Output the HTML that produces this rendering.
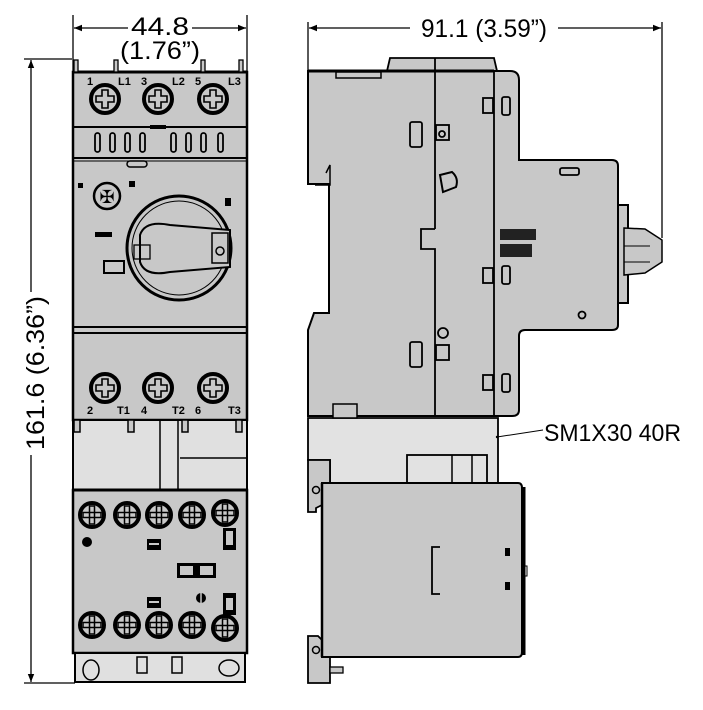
<!DOCTYPE html>
<html><head><style>
html,body{margin:0;padding:0;background:#fff;}
svg{display:block;}
.t{font-family:"Liberation Sans",sans-serif;}
</style></head><body>
<svg width="703" height="710" viewBox="0 0 703 710" xmlns="http://www.w3.org/2000/svg">
<defs>
<marker id="ar" viewBox="0 0 10 10" refX="10" refY="5" markerWidth="14" markerHeight="8" orient="auto-start-reverse" markerUnits="userSpaceOnUse"><path d="M0,1 L10,5 L0,9 Z" fill="#000"/></marker>
<g id="scr"><circle r="14" fill="#c8c8c8" stroke="#000" stroke-width="4"/><path d="M-3,-9 h6 v6 h6 v6 h-6 v6 h-6 v-6 h-6 v-6 h6z" fill="none" stroke="#000" stroke-width="1.6"/></g>
<g id="scr2"><circle r="12" fill="#c8c8c8" stroke="#000" stroke-width="4"/><rect x="-9" y="-2.5" width="18" height="5" fill="none" stroke="#000" stroke-width="1.5"/><rect x="-2.5" y="-9" width="5" height="18" fill="none" stroke="#000" stroke-width="1.5"/></g>
</defs>

<!-- dimensions -->
<g stroke="#000" stroke-width="1.3" fill="none">
<line x1="73" y1="15" x2="73" y2="72"/><line x1="247" y1="15" x2="247" y2="72"/>
<line x1="74" y1="28" x2="128" y2="28" marker-start="url(#ar)"/><line x1="192" y1="28" x2="246" y2="28" marker-end="url(#ar)"/>
<line x1="308" y1="22" x2="308" y2="72"/><line x1="662" y1="22" x2="662" y2="238"/>
<line x1="309" y1="28" x2="410" y2="28" marker-start="url(#ar)"/><line x1="558" y1="28" x2="661" y2="28" marker-end="url(#ar)"/>
<line x1="24" y1="59" x2="72" y2="59"/><line x1="24" y1="683" x2="75" y2="683"/>
<line x1="31" y1="60" x2="31" y2="292" marker-start="url(#ar)"/><line x1="31" y1="455" x2="31" y2="682" marker-end="url(#ar)"/>
</g>
<text class="t" x="160" y="35" font-size="25" text-anchor="middle" textLength="58" lengthAdjust="spacingAndGlyphs">44.8</text>
<text class="t" x="160" y="59" font-size="25" text-anchor="middle" textLength="80" lengthAdjust="spacingAndGlyphs">(1.76”)</text>
<text class="t" x="484" y="37" font-size="25" text-anchor="middle" textLength="126" lengthAdjust="spacingAndGlyphs">91.1 (3.59”)</text>
<text class="t" transform="translate(44,373) rotate(-90)" font-size="25" text-anchor="middle" textLength="154" lengthAdjust="spacingAndGlyphs">161.6 (6.36”)</text>

<!-- FRONT VIEW -->
<g stroke="#000" stroke-width="2">
<rect x="73" y="72" width="174" height="348" fill="#c8c8c8" stroke-width="2.5"/>
<rect x="73" y="420" width="174" height="70" fill="#e0e0e0"/>
<rect x="73" y="490" width="174" height="163" fill="#c8c8c8" stroke-width="2.5"/>
<rect x="75" y="653" width="170" height="29" fill="#e0e0e0"/>
</g>
<g stroke="#000" fill="none">
<line x1="73" y1="127" x2="247" y2="127" stroke-width="2"/>
<line x1="73" y1="158" x2="247" y2="158" stroke-width="2"/>
<line x1="73" y1="161" x2="247" y2="161" stroke-width="1"/>
<line x1="73" y1="327" x2="247" y2="327" stroke-width="2"/>
<line x1="73" y1="333" x2="247" y2="333" stroke-width="2"/>
<line x1="73" y1="72" x2="247" y2="72" stroke-width="3"/>
<line x1="160" y1="420" x2="160" y2="490" stroke-width="1.5"/>
<line x1="178" y1="420" x2="178" y2="490" stroke-width="1.5"/>
<line x1="180" y1="458" x2="247" y2="458" stroke-width="1.5"/>
<line x1="73" y1="490" x2="247" y2="490" stroke-width="3"/>
</g>
<!-- top pins -->
<g fill="#c8c8c8" stroke="#000" stroke-width="1.3">
<rect x="74" y="60" width="4" height="12"/><rect x="114" y="60" width="4" height="12"/><rect x="201" y="60" width="4" height="12"/><rect x="239" y="60" width="4" height="12"/>
</g>
<!-- slots -->
<g fill="none" stroke="#000" stroke-width="1.8">
<rect x="95" y="133" width="5" height="19" rx="2.5"/><rect x="110" y="133" width="5" height="19" rx="2.5"/><rect x="125" y="133" width="5" height="19" rx="2.5"/><rect x="140" y="133" width="5" height="19" rx="2.5"/>
<rect x="171" y="133" width="5" height="19" rx="2.5"/><rect x="186" y="133" width="5" height="19" rx="2.5"/><rect x="201" y="133" width="5" height="19" rx="2.5"/><rect x="218" y="133" width="5" height="19" rx="2.5"/>
</g>
<rect x="150" y="125" width="16" height="4" fill="#000"/>
<rect x="127" y="161" width="20" height="6" rx="3" fill="#c8c8c8" stroke="#000" stroke-width="1.5"/>
<g class="t" font-size="11" font-weight="bold">
<text x="87" y="85">1</text><text x="118" y="85">L1</text><text x="141" y="85">3</text><text x="172" y="85">L2</text><text x="195" y="85">5</text><text x="228" y="85">L3</text>
<text x="87" y="414">2</text><text x="117" y="414">T1</text><text x="141" y="414">4</text><text x="172" y="414">T2</text><text x="195" y="414">6</text><text x="228" y="414">T3</text>
</g>
<use href="#scr" x="105" y="99"/><use href="#scr" x="158" y="99"/><use href="#scr" x="213" y="99"/>
<use href="#scr" x="105" y="388"/><use href="#scr" x="158" y="388"/><use href="#scr" x="213" y="388"/>
<!-- small screw & knob -->
<circle cx="107" cy="196" r="13" fill="#c8c8c8" stroke="#000" stroke-width="2.5"/>
<text class="t" x="107" y="203" font-size="18" text-anchor="middle">✠</text>
<rect x="78" y="183" width="5" height="5" fill="#000"/><rect x="129" y="181" width="6" height="6" fill="#000"/>
<rect x="225" y="198" width="6" height="8" fill="#000"/>
<rect x="95" y="232" width="17" height="5" fill="#000"/>
<circle cx="179" cy="248" r="52" fill="#c8c8c8" stroke="#000" stroke-width="3"/>
<circle cx="179" cy="248" r="47" fill="none" stroke="#000" stroke-width="1"/>
<path d="M140,235 Q145,220 170,225 L230,230 L230,267 L170,272 Q145,277 140,262 Z" fill="#c8c8c8" stroke="#000" stroke-width="2"/>
<rect x="212" y="233" width="16" height="30" fill="none" stroke="#000" stroke-width="1.5"/>
<circle cx="220" cy="251" r="4" fill="none" stroke="#000" stroke-width="1.5"/>
<rect x="134" y="245" width="16" height="14" fill="none" stroke="#000" stroke-width="1.3"/>
<rect x="104" y="261" width="20" height="12" fill="#c8c8c8" stroke="#000" stroke-width="2"/>
<!-- cover clips -->
<g fill="#c8c8c8" stroke="#000" stroke-width="1.5">
<rect x="74" y="420" width="6" height="12"/><rect x="128" y="420" width="6" height="12"/><rect x="182" y="420" width="6" height="12"/><rect x="236" y="420" width="6" height="12"/>
</g>
<!-- contactor -->
<use href="#scr2" x="92" y="515"/><use href="#scr2" x="127" y="515"/><use href="#scr2" x="159" y="515"/><use href="#scr2" x="192" y="515"/><use href="#scr2" x="225" y="513"/>
<use href="#scr2" x="92" y="625"/><use href="#scr2" x="127" y="625"/><use href="#scr2" x="159" y="625"/><use href="#scr2" x="192" y="625"/><use href="#scr2" x="225" y="628"/>
<circle cx="87" cy="542" r="5" fill="#000"/>
<rect x="147" y="539" width="14" height="11" fill="#000"/><rect x="149" y="543" width="10" height="2" fill="#c8c8c8"/>
<rect x="147" y="597" width="14" height="11" fill="#000"/><rect x="149" y="601" width="10" height="2" fill="#c8c8c8"/>
<rect x="223" y="528" width="13" height="22" fill="#000"/><rect x="226" y="531" width="7" height="14" fill="#c8c8c8"/>
<rect x="223" y="593" width="13" height="22" fill="#000"/><rect x="226" y="598" width="7" height="12" fill="#c8c8c8"/>
<rect x="177" y="563" width="39" height="15" fill="#000"/><rect x="180" y="566" width="13" height="9" fill="#c8c8c8"/><rect x="200" y="566" width="13" height="9" fill="#c8c8c8"/>
<circle cx="201" cy="598" r="5" fill="#000"/><line x1="201" y1="593" x2="201" y2="603" stroke="#c8c8c8" stroke-width="1.5"/>
<ellipse cx="91" cy="670" rx="8" ry="10" fill="none" stroke="#000" stroke-width="1.5"/>
<ellipse cx="229" cy="668" rx="10" ry="8" fill="none" stroke="#000" stroke-width="1.5"/>
<rect x="137" y="657" width="10" height="16" fill="none" stroke="#000" stroke-width="1.5"/>
<rect x="172" y="657" width="10" height="16" fill="none" stroke="#000" stroke-width="1.5"/>

<!-- SIDE VIEW -->
<path d="M390,58 L494,58 L497,71 L387,71 Z" fill="#c8c8c8" stroke="#000" stroke-width="1.8"/>
<path d="M308,71 L510,71 Q519,71 519,80 L519,160 L612,160 Q618,160 618,166 L618,325 Q618,330 612,330 L525,330 Q519,330 519,336 L519,410 Q519,416 512,416 L308,416 L308,330 L314,313 L329,313 L329,184 L308,184 Z" fill="#c8c8c8" stroke="#000" stroke-width="2"/>
<line x1="308" y1="71" x2="494" y2="71" stroke="#000" stroke-width="3"/>
<line x1="435" y1="58" x2="435" y2="229" stroke="#000" stroke-width="1.8"/>
<path d="M435,229 L421,229 L421,249 L435,249 L435,416" fill="none" stroke="#000" stroke-width="1.8"/>
<line x1="494" y1="71" x2="494" y2="416" stroke="#000" stroke-width="1.8"/>
<rect x="336" y="72" width="45" height="6" fill="#c8c8c8" stroke="#000" stroke-width="1.5"/>
<g fill="none" stroke="#000" stroke-width="1.8">
<rect x="410" y="122" width="12" height="25" rx="2"/><rect x="410" y="342" width="12" height="25" rx="2"/>
<rect x="436" y="125" width="13" height="15"/><circle cx="442" cy="134" r="3"/>
<rect x="436" y="345" width="13" height="15"/><circle cx="443" cy="333" r="5"/>
<rect x="483" y="98" width="10" height="15"/><rect x="483" y="268" width="10" height="15"/><rect x="483" y="375" width="10" height="15"/>
<rect x="502" y="97" width="8" height="18" rx="2"/><rect x="502" y="266" width="8" height="18" rx="2"/><rect x="502" y="374" width="8" height="18" rx="2"/>
<rect x="560" y="168" width="19" height="7" rx="2"/>
<circle cx="582" cy="315" r="3.5"/>
</g>
<path d="M440,175 L452,172 Q459,178 456,187 L443,192 Z" fill="#c8c8c8" stroke="#000" stroke-width="2"/>
<rect x="500" y="229" width="36" height="11" fill="#222"/><rect x="500" y="244" width="32" height="13" fill="#222"/>
<path d="M326,173 L330,165 L330,185 L315,185" fill="none" stroke="#000" stroke-width="1.5"/>
<!-- knob side -->
<rect x="618" y="205" width="10" height="98" fill="#c8c8c8" stroke="#000" stroke-width="2"/>
<path d="M624,228 L645,229 L662,240 L662,262 L645,273 L624,275 Z" fill="#c8c8c8" stroke="#000" stroke-width="1.5"/>
<line x1="624" y1="246" x2="650" y2="246" stroke="#000"/><line x1="624" y1="262" x2="650" y2="262" stroke="#000"/>
<!-- adapter -->
<path d="M308,418 L498,418 L498,483 L330,483 L330,460 L308,460 Z" fill="#e2e2e2" stroke="#000" stroke-width="1.8"/>
<rect x="333" y="404" width="24" height="14" fill="#c8c8c8" stroke="#000" stroke-width="1.5"/>
<rect x="407" y="455" width="80" height="28" fill="#e2e2e2" stroke="#000" stroke-width="1.8"/>
<line x1="452" y1="455" x2="452" y2="483" stroke="#000" stroke-width="1.5"/><line x1="472" y1="455" x2="472" y2="483" stroke="#000" stroke-width="1.5"/>
<!-- rail -->
<path d="M308,460 L330,460 L330,483 L322,483 L322,505 L316,508 L316,512 L308,512 Z M308,636 L318,636 L322,640 L322,657 L330,657 L330,683 L308,683 Z" fill="#c8c8c8" stroke="#000" stroke-width="1.8"/>
<circle cx="316" cy="490" r="3.5" fill="none" stroke="#000" stroke-width="1.5"/><circle cx="316" cy="650" r="3.5" fill="none" stroke="#000" stroke-width="1.5"/>
<rect x="330" y="667" width="13" height="6" fill="#c8c8c8" stroke="#000" stroke-width="1.3"/>
<!-- contactor side -->
<path d="M322,483 L518,483 Q522,483 522,488 L522,652 Q522,657 518,657 L322,657 Z" fill="#c8c8c8" stroke="#000" stroke-width="2"/>
<line x1="322" y1="483" x2="322" y2="657" stroke="#000" stroke-width="2.5"/>
<line x1="524" y1="487" x2="524" y2="655" stroke="#000" stroke-width="3"/>
<rect x="524" y="566" width="3" height="10" fill="none" stroke="#000"/>
<path d="M440,547 L432,547 L432,594 L440,594" fill="none" stroke="#000" stroke-width="1.8"/>
<rect x="505" y="548" width="5" height="8" fill="#000"/><rect x="505" y="582" width="5" height="8" fill="#000"/>
<!-- label -->
<line x1="497" y1="437" x2="543" y2="430" stroke="#000" stroke-width="1"/>
<circle cx="497" cy="437" r="1.2" fill="#000"/>
<text class="t" x="544" y="441" font-size="24" textLength="137" lengthAdjust="spacingAndGlyphs">SM1X30 40R</text>
</svg>
</body></html>
